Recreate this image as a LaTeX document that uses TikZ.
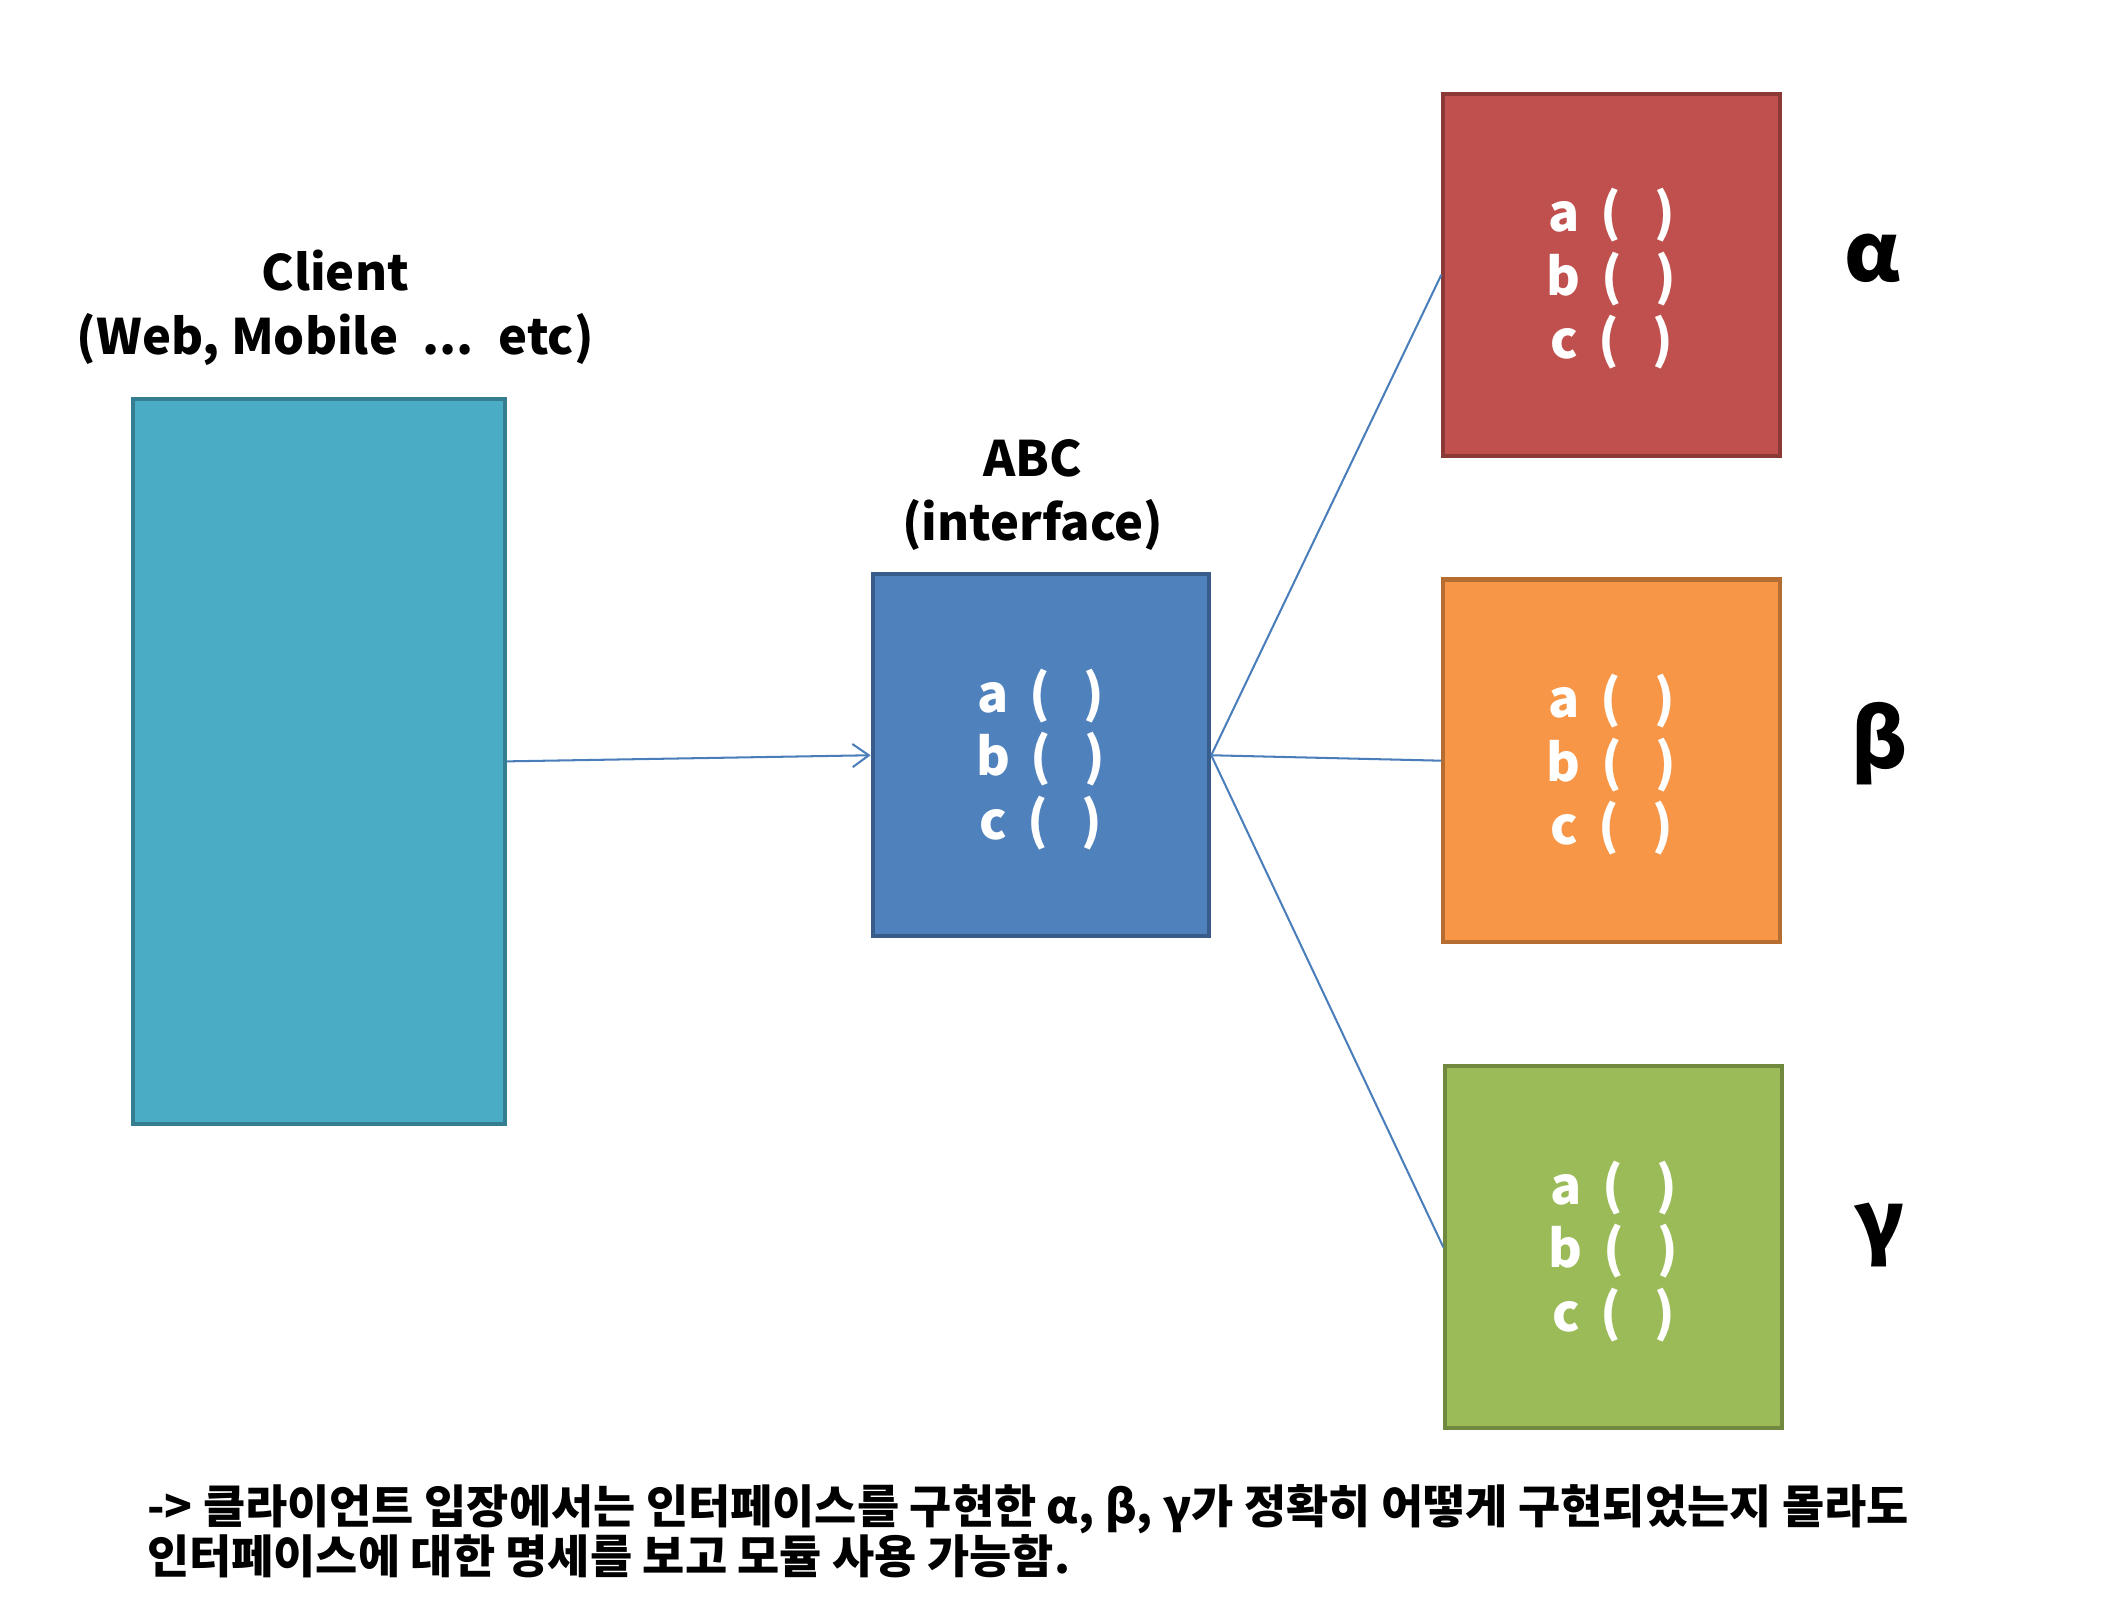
\documentclass[tikz,border=0pt]{standalone}
\usepackage{fontspec}
\setmainfont{Noto Sans CJK KR}
\usetikzlibrary{positioning,arrows.meta}

\definecolor{clientfill}{HTML}{4BACC6}
\definecolor{clientline}{HTML}{357D91}
\definecolor{abcfill}{HTML}{4F81BD}
\definecolor{abcline}{HTML}{385D8A}
\definecolor{redfill}{HTML}{C0504D}
\definecolor{redline}{HTML}{8C3836}
\definecolor{orngfill}{HTML}{F79646}
\definecolor{orngline}{HTML}{B66D31}
\definecolor{grnfill}{HTML}{9BBB59}
\definecolor{grnline}{HTML}{71893F}
\definecolor{linkblue}{HTML}{4A7EBB}

\tikzstyle{every node}+=[inner sep=0pt]
\tikzstyle{box}=[rectangle,draw,line width=1.5pt,minimum width=124pt,minimum height=133.5pt,text=white,align=center,font=\fontsize{19}{23.4}\selectfont\bfseries]
\tikzstyle{lbl}=[align=center,font=\fontsize{18}{23.5}\selectfont\bfseries]
\tikzstyle{greek}=[font=\fontsize{30}{30}\selectfont\bfseries]
\tikzstyle{link}=[draw=linkblue,line width=0.75pt]
\newcommand{\methods}{\rule{0pt}{19pt}a\hspace{.4em}(\hspace{.65em})\\b\hspace{.4em}(\hspace{.65em})\\c\hspace{.4em}(\hspace{.65em})}

\begin{document}
\begin{tikzpicture}[x=0.5pt,y=-0.5pt]
\fill[white] (0,0) rectangle (1568,1178.2);
\useasboundingbox (0,0) rectangle (1568,1178.2);

% client and interface
\node[box,fill=clientfill,draw=clientline,minimum width=137pt,minimum height=267pt] (client) at (235,561) {};
\node[lbl] (clientlbl) at (247,227) {Client\\(Web, Mobile\hspace{.5em}...\hspace{.5em}etc)};
\node[box,fill=abcfill,draw=abcline] (abc) at (767,556.5) {\methods};
\node[lbl] (abclbl) at (761,365) {ABC\\(interface)};

% implementations
\node[box,fill=redfill,draw=redline] (ra) at (1187.5,202.5) {\methods};
\node[box,fill=orngfill,draw=orngline] (orng) at (1187.5,560.5) {\methods};
\node[box,fill=grnfill,draw=grnline] (grn) at (1189,919) {\methods};
\node[greek] (alpha) at (1380,190) {α};
\node[greek] (beta) at (1385,548) {β};
\node[greek] (gamma) at (1385,910) {γ};

\draw[link,-{Straight Barb[length=6pt,width=8.5pt]}] (client.east) -- (abc.west);
\foreach \t in {ra,orng,grn}{
	\draw[link] (abc.east) -- (\t.west);
}

\node[anchor=west,align=left,font=\fontsize{16.9}{18.5}\selectfont\bfseries] (note) at (108,1128) {-> 클라이언트 입장에서는 인터페이스를 구현한 α, β, γ가 정확히 어떻게 구현되었는지 몰라도\\인터페이스에 대한 명세를 보고 모듈 사용 가능함.};
\end{tikzpicture}
\end{document}
